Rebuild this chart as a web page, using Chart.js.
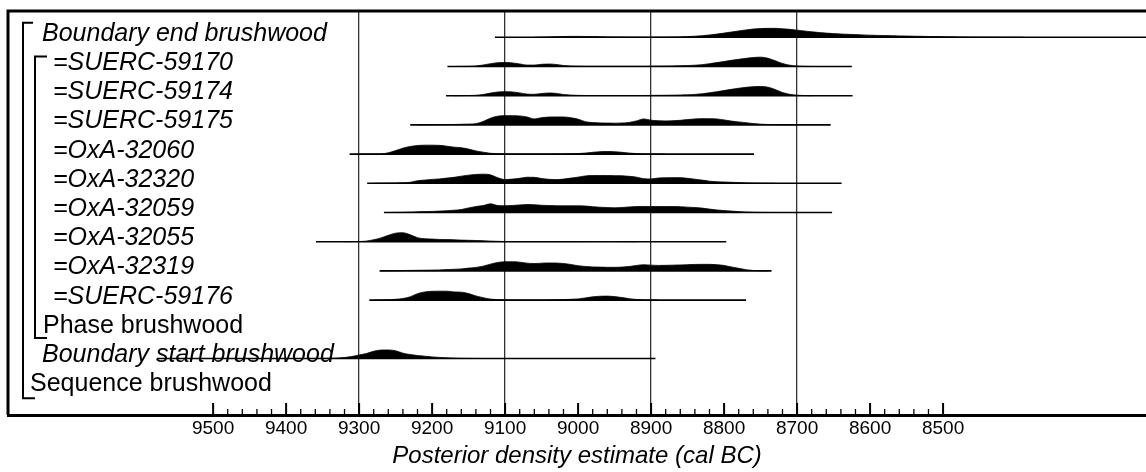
<!DOCTYPE html>
<html>
<head>
    <title>Posterior density estimates : brushwood</title>
    <script src="https://cdn.jsdelivr.net/npm/chart.js"></script>
    <style>
        html, body { margin: 0; padding: 0; background: #fff; }
    </style>
</head>
<body>
    <canvas id="oxcalChart" width="1146" height="472"></canvas>
    <script>
        // rows, top to bottom
        const rowLabels = [
            'Boundary end brushwood',
            '=SUERC-59170', '=SUERC-59174', '=SUERC-59175',
            '=OxA-32060', '=OxA-32320', '=OxA-32059', '=OxA-32055', '=OxA-32319',
            '=SUERC-59176',
            'Phase brushwood',
            'Boundary start brushwood',
            'Sequence brushwood'
        ];
        const italicRows = [true, true, true, true, true, true, true, true, true, true, false, true, false];

        // extent of the range line under each distribution (cal BC)
        const rangeFrom = [9114, 9179, 9181, 9230, 9313, 9289, 9266, 9359, 9272, 9286, null, 9577, null];
        const rangeTo   = [8100, 8625, 8624, 8654, 8759, 8639, 8652, 8797, 8735, 8770, null, 8894, null];

        // relative posterior density, read every 10 years from densityStart downwards
        const densityStart = [9060, 9170, 9170, 9220, 9300, 9280, 9260, 9320, 9270, 9280, null, 9360, null];

        const endBrushwood = [0, 0.2, 0.4, 0.6, 0.8, 0.9, 0.9, 0.8, 0.7, 0.5, 0.4, 0.3, 0.3, 0.2, 0.2, 0.1, 0.1, 0.15,
            0.2, 0.3, 0.4, 0.7, 1.1, 1.6, 2.3, 3.2, 4.2, 5.3, 6.4, 7.4, 8.3, 8.8, 9.0, 9.0, 8.6, 8.0, 7.2, 6.3, 5.5,
            4.8, 4.2, 3.7, 3.3, 3.0, 2.7, 2.4, 2.1, 1.9, 1.7, 1.55, 1.4, 1.25, 1.1, 0.95, 0.8, 0.7, 0.6, 0.5, 0.4,
            0.3, 0.25, 0.2, 0.15, 0.12, 0.1, 0.07, 0.05, 0];
        const suerc59170 = [0, 0.1, 0.2, 0.5, 1.5, 2.8, 3.8, 4.0, 3.6, 2.6, 1.4, 1.4, 2.2, 2.5, 2.0, 1.0, 0.5, 0.3,
            0.2, 0.2, 0.2, 0.2, 0.2, 0.2, 0.2, 0.2, 0.2, 0.3, 0.35, 0.45, 0.55, 0.7, 0.9, 1.3, 1.8, 2.8, 3.9, 5.0,
            6.2, 7.2, 8.2, 9.0, 9.4, 8.3, 5.8, 3.0, 1.3, 0.5, 0.15, 0];
        const suerc59174 = [0, 0.1, 0.2, 0.4, 1.2, 2.6, 3.7, 4.0, 3.8, 2.8, 1.6, 1.4, 2.2, 2.7, 2.3, 1.2, 0.6, 0.3,
            0.2, 0.2, 0.2, 0.2, 0.2, 0.2, 0.2, 0.2, 0.2, 0.3, 0.35, 0.45, 0.55, 0.7, 0.9, 1.3, 1.9, 2.9, 4.0, 5.2,
            6.4, 7.5, 8.4, 9.1, 9.3, 8.6, 6.2, 3.2, 1.4, 0.5, 0.15, 0];
        const suerc59175 = [0, 0.1, 0.2, 0.3, 0.3, 0.4, 0.6, 0.8, 1.2, 3.5, 6.8, 8.8, 9.3, 9.3, 9.0, 8.0, 6.0, 7.3,
            7.9, 8.0, 8.0, 7.2, 5.8, 3.2, 2.3, 2.0, 1.8, 1.7, 1.9, 2.5, 4.0, 6.0, 4.7, 4.2, 4.0, 4.2, 4.6, 5.3, 6.0,
            6.3, 6.2, 6.0, 5.0, 3.8, 3.0, 2.2, 1.3, 0.7, 0.4, 0.2, 0.1, 0.05, 0];
        const oxa32060 = [0, 0.05, 0.1, 0.2, 1.3, 3.5, 6.0, 7.7, 8.7, 9.0, 9.0, 8.8, 8.0, 7.0, 6.4, 5.0, 3.2, 1.9,
            0.8, 0.3, 0.15, 0.1, 0.1, 0.1, 0.1, 0.1, 0.1, 0.2, 0.2, 0.3, 0.5, 1.0, 1.8, 2.4, 2.6, 2.4, 1.8, 1.0,
            0.5, 0.2, 0.1, 0.05, 0];
        const oxa32320 = [0, 0.1, 0.2, 0.3, 0.5, 1.0, 2.6, 3.2, 3.9, 4.4, 5.2, 6.0, 7.2, 8.2, 8.9, 9.2, 8.5, 5.5,
            3.8, 4.2, 5.0, 6.1, 6.0, 4.8, 4.0, 3.7, 4.2, 5.2, 6.2, 7.4, 7.8, 7.8, 7.8, 7.7, 7.6, 7.0, 6.2, 4.6,
            4.4, 5.3, 5.6, 5.7, 5.7, 5.0, 4.1, 3.2, 2.1, 1.6, 1.3, 1.0, 0.7, 0.4, 0.25, 0.1, 0.05, 0];
        const oxa32059 = [0, 0.1, 0.2, 0.4, 0.7, 0.9, 1.1, 1.4, 1.8, 2.3, 3.0, 4.6, 6.0, 7.0, 8.7, 7.0, 6.8, 7.1,
            7.6, 8.0, 7.8, 7.3, 7.0, 6.8, 6.7, 6.7, 6.7, 6.5, 5.8, 5.3, 5.0, 4.7, 5.0, 5.6, 6.0, 6.1, 6.0, 6.0,
            6.0, 6.0, 5.8, 5.4, 5.0, 4.4, 3.4, 2.6, 1.9, 1.4, 0.9, 0.5, 0.25, 0.1, 0.05, 0];
        const oxa32055 = [0, 0.1, 0.2, 0.6, 2.0, 3.8, 6.4, 8.6, 9.0, 7.0, 4.0, 3.0, 2.6, 2.3, 2.1, 1.9, 1.6, 1.4,
            1.2, 1.0, 0.6, 0.35, 0.15, 0.05, 0.05, 0.05, 0.05, 0.05, 0.05, 0.05, 0.05, 0.05, 0.05, 0.1, 0.12, 0.15,
            0.15, 0.12, 0.08, 0.05, 0];
        const oxa32319 = [0, 0.1, 0.2, 0.4, 0.5, 0.6, 0.7, 0.8, 1.0, 1.3, 1.6, 2.0, 2.8, 3.5, 4.8, 6.8, 8.5, 9.2,
            9.2, 8.8, 7.8, 7.4, 7.8, 8.0, 7.9, 7.5, 6.5, 5.2, 4.5, 4.0, 3.8, 3.6, 3.6, 3.8, 4.4, 5.5, 6.2, 5.8,
            5.5, 5.6, 5.8, 6.0, 6.3, 6.5, 6.6, 6.6, 6.3, 5.5, 4.0, 2.6, 1.2, 0.4, 0.1, 0];
        const suerc59176 = [0, 0.1, 0.3, 0.8, 1.6, 3.3, 6.5, 8.2, 8.9, 9.0, 9.0, 8.2, 8.0, 6.6, 4.2, 2.4, 1.0, 0.5,
            0.2, 0.1, 0.1, 0.1, 0.1, 0.1, 0.2, 0.3, 0.5, 0.8, 1.2, 2.2, 3.3, 3.9, 4.0, 3.5, 2.6, 1.4, 0.6, 0.2,
            0.1, 0];
        const startBrushwood = [0.05, 0.1, 0.2, 0.4, 1.0, 2.0, 3.5, 5.0, 7.3, 8.5, 8.6, 7.8, 5.4, 4.0, 3.0, 2.3,
            1.6, 1.1, 0.7, 0.4, 0.2, 0.1, 0.05, 0];

        const densities = [endBrushwood, suerc59170, suerc59174, suerc59175, oxa32060, oxa32320, oxa32059,
            oxa32055, oxa32319, suerc59176, null, startBrushwood, null];

        // axis
        const tickLabels = [9500, 9400, 9300, 9200, 9100, 9000, 8900, 8800, 8700, 8600, 8500];
        const gridYears = [9300, 9100, 8900, 8700];
        const minorStep = 20;

        const fontFamily = '"Liberation Sans", Arial, sans-serif';
        const densityScale = 0.034;   // row units per density unit

        const tickYears = [];
        for (let v = tickLabels[0]; v >= tickLabels[tickLabels.length - 1]; v -= minorStep) tickYears.push(v);

        const datasets = [];
        rowLabels.forEach((label, row) => {
            if (rangeFrom[row] !== null) {
                datasets.push({
                    label: label + ' range',
                    data: [{ x: rangeFrom[row], y: row }, { x: rangeTo[row], y: row }],
                    borderColor: '#000',
                    borderWidth: 1.6,
                    pointRadius: 0,
                    fill: false,
                });
            }
            const vals = densities[row];
            if (vals) {
                datasets.push({
                    label: label,
                    data: vals.map((v, i) => ({ x: densityStart[row] - i * 10, y: row - v * densityScale })),
                    borderColor: '#000',
                    borderWidth: 0.8,
                    backgroundColor: '#000',
                    pointRadius: 0,
                    cubicInterpolationMode: 'monotone',
                    fill: { value: row },
                });
            }
        });

        // frame, inward ticks, brackets and row names
        const oxcalDecor = {
            id: 'oxcalDecor',
            afterDatasetsDraw(chart) {
                const { ctx, chartArea: a, scales: { x, y } } = chart;
                ctx.save();
                ctx.strokeStyle = '#000';
                ctx.lineCap = 'butt';

                ctx.lineWidth = 3;
                ctx.beginPath();
                ctx.moveTo(a.left, a.bottom);
                ctx.lineTo(a.left, a.top);
                ctx.lineTo(a.right + 5, a.top);
                ctx.stroke();

                tickYears.forEach(v => {
                    const px = x.getPixelForValue(v);
                    const major = v % 100 === 0;
                    ctx.lineWidth = major ? 2 : 1.3;
                    ctx.beginPath();
                    ctx.moveTo(px, a.bottom);
                    ctx.lineTo(px, a.bottom - (major ? 12 : 6));
                    ctx.stroke();
                });

                // Sequence bracket (rows 0-12), Phase bracket (rows 1-10)
                const bracket = (bx, top, bottom, topHook, bottomHook) => {
                    ctx.lineWidth = 2;
                    ctx.beginPath();
                    ctx.moveTo(topHook, top);
                    ctx.lineTo(bx, top);
                    ctx.lineTo(bx, bottom);
                    ctx.lineTo(bottomHook, bottom);
                    ctx.stroke();
                };
                bracket(23, y.getPixelForValue(0) - 14.6, y.getPixelForValue(12) + 10.6, 33, 35);
                bracket(35, y.getPixelForValue(1) - 10, y.getPixelForValue(10) + 8.8, 47, 47);

                const indent = [42, 53, 53, 53, 53, 53, 53, 53, 53, 53, 43, 42, 30];
                ctx.fillStyle = '#000';
                ctx.textBaseline = 'alphabetic';
                ctx.textAlign = 'left';
                rowLabels.forEach((label, row) => {
                    ctx.font = (italicRows[row] ? 'italic ' : '') + '25px ' + fontFamily;
                    ctx.fillText(label, indent[row], y.getPixelForValue(row) + 3.5);
                });
                ctx.restore();
            }
        };

        const ctx = document.getElementById('oxcalChart').getContext('2d');
        const oxcalChart = new Chart(ctx, {
            type: 'line',
            data: { datasets: datasets },
            options: {
                responsive: false,
                animation: false,
                events: [],
                layout: { padding: { top: 11, left: 8, right: 0, bottom: 2 } },
                plugins: {
                    legend: { display: false },
                    tooltip: { enabled: false },
                },
                scales: {
                    x: {
                        type: 'linear',
                        reverse: true,
                        min: 8222,
                        max: 9781,
                        afterBuildTicks: scale => {
                            scale.ticks = tickYears.map(v => ({ value: v }));
                        },
                        ticks: {
                            autoSkip: false,
                            maxRotation: 0,
                            padding: 4,
                            color: '#000',
                            font: { family: fontFamily, size: 19, lineHeight: 1 },
                            callback: v => (v % 100 === 0 ? String(v) : ''),
                        },
                        grid: {
                            drawTicks: false,
                            lineWidth: 1.3,
                            color: c => (c.tick && gridYears.includes(c.tick.value) ? '#333' : 'rgba(0,0,0,0)'),
                        },
                        border: { display: true, color: '#000', width: 3 },
                        title: {
                            display: true,
                            text: 'Posterior density estimate (cal BC)',
                            color: '#000',
                            font: { family: fontFamily, size: 24, style: 'italic', lineHeight: 1 },
                            padding: { top: 2, bottom: 2 },
                        },
                    },
                    y: {
                        display: false,
                        reverse: true,
                        min: -0.9,
                        max: 12.935,
                    },
                },
            },
            plugins: [oxcalDecor],
        });
    </script>
</body>
</html>
